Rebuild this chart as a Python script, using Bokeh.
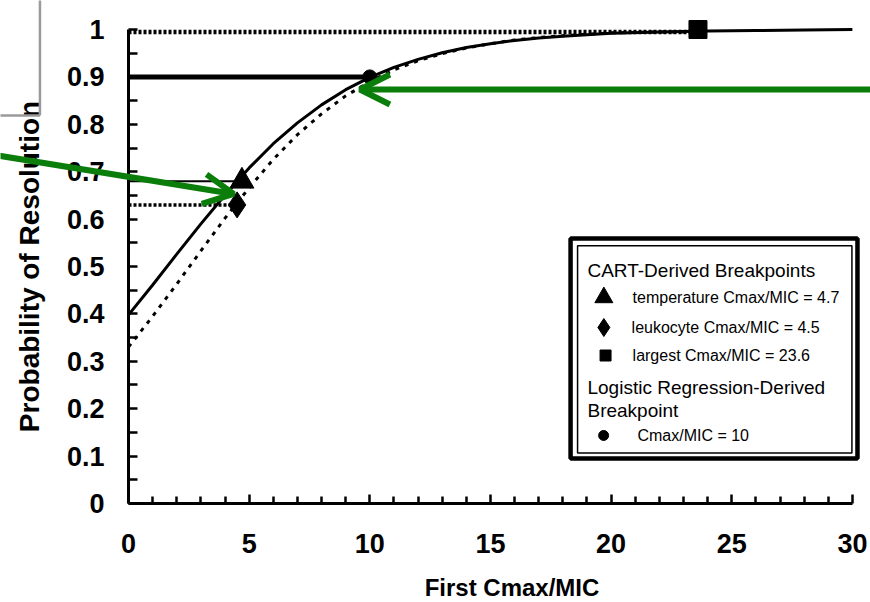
from bokeh.plotting import figure
from bokeh.models import Range1d, FixedTicker, Arrow, OpenHead, BoxAnnotation, LinearAxis
from bokeh.core.properties import value
from bokeh.embed import file_html
from bokeh.resources import INLINE

# ---------------- data ----------------
cmax_solid = [0, 1, 2, 3, 4, 5, 6, 7, 8, 9, 10, 11, 12, 13, 14, 15, 16, 17, 18, 19, 20, 22, 24, 26, 28, 30]
prob_solid = [0.398, 0.461, 0.526, 0.590, 0.651, 0.708, 0.759, 0.803, 0.841, 0.873, 0.899, 0.920,
              0.937, 0.951, 0.962, 0.970, 0.977, 0.982, 0.986, 0.989, 0.992, 0.995, 0.997, 0.998, 0.999, 1.0]

cmax_dashed = [0, 1, 2, 3, 4, 5, 6, 7, 8, 9, 10, 11, 12, 13, 14, 15, 16, 17, 18, 19, 20, 22, 23.6]
prob_dashed = [0.330, 0.395, 0.463, 0.533, 0.602, 0.666, 0.726, 0.778, 0.822, 0.860, 0.890, 0.915,
               0.934, 0.949, 0.961, 0.970, 0.978, 0.983, 0.987, 0.990, 0.993, 0.995, 0.995]

# breakpoints: temperature, leukocyte, largest, logistic regression
bp_x = [4.7, 4.5, 23.6, 10]
bp_y = [0.68, 0.63, 0.995, 0.90]
bp_marker = ["triangle", "diamond", "square", "circle"]

x_ticks = [0, 5, 10, 15, 20, 25, 30]
x_minor = [1, 2, 3, 4, 6, 7, 8, 9, 11, 12, 13, 14, 16, 17, 18, 19, 21, 22, 23, 24, 26, 27, 28, 29]
y_ticks = [0, 0.1, 0.2, 0.3, 0.4, 0.5, 0.6, 0.7, 0.8, 0.9, 1]
y_tick_labels = ["0", "0.1", "0.2", "0.3", "0.4", "0.5", "0.6", "0.7", "0.8", "0.9", "1"]
y_minor = [0.05, 0.15, 0.25, 0.35, 0.45, 0.55, 0.65, 0.75, 0.85, 0.95]

legend_headers = ["CART-Derived Breakpoints", "Logistic Regression-Derived", "Breakpoint"]
legend_labels = ["temperature Cmax/MIC = 4.7", "leukocyte Cmax/MIC = 4.5",
                 "largest Cmax/MIC = 23.6", "Cmax/MIC = 10"]

# ---------------- figure ----------------
# the frame fills the whole canvas; the axes are pinned at x=0 / y=0
BOLD = "'Liberation Sans', Arial, sans-serif"
p = figure(width=870, height=602, x_range=Range1d(-5.305, 30.75), y_range=Range1d(-0.2089, 1.0612),
           output_backend="svg", toolbar_location=None,
           min_border_left=0, min_border_right=0, min_border_top=0, min_border_bottom=0)
p.outline_line_color = None
p.xgrid.visible = False
p.ygrid.visible = False
p.background_fill_color = "white"

# axes
p.xaxis.ticker = FixedTicker(ticks=x_ticks, minor_ticks=x_minor)
p.yaxis.ticker = FixedTicker(ticks=y_ticks, minor_ticks=y_minor)
p.yaxis.major_label_overrides = {t: s for t, s in zip(y_ticks, y_tick_labels)}
p.xaxis.bounds = (0, 30)
p.yaxis.bounds = (0, 1)
p.xaxis.fixed_location = 0
p.yaxis.fixed_location = 0
for ax in (p.xaxis, p.yaxis):
    ax.axis_line_width = 3
    ax.axis_line_color = "black"
    ax.major_tick_out = 0
    ax.minor_tick_out = 0
    ax.major_tick_line_width = 2.5
    ax.minor_tick_line_width = 2.5
    ax.major_tick_line_color = "black"
    ax.minor_tick_line_color = "black"
    ax.major_label_text_font = BOLD
    ax.major_label_text_font_style = "bold"
    ax.major_label_text_font_size = "27px"
    ax.major_label_text_color = "black"
    ax.axis_label_text_font = BOLD
    ax.axis_label_text_font_style = "bold"
    ax.axis_label_text_color = "black"
p.xaxis.major_tick_in = 9
p.xaxis.minor_tick_in = 7
p.yaxis.major_tick_in = 9
p.yaxis.minor_tick_in = 9
p.xaxis.major_label_standoff = 31
p.yaxis.major_label_standoff = 24
p.yaxis.axis_label = "Probability of Resolution"
p.yaxis.axis_label_text_font_size = "28px"
p.yaxis.axis_label_standoff = 19

# x-axis title carried by a second, line-less axis whose span is centred under the title
title_axis = LinearAxis(fixed_location=0, bounds=(1.05, 30.75), ticker=FixedTicker(ticks=[]),
                        axis_line_color=None, major_tick_line_color=None, minor_tick_line_color=None,
                        major_label_text_font_size="0px",
                        axis_label="First Cmax/MIC", axis_label_text_font=BOLD,
                        axis_label_text_font_style="bold", axis_label_text_font_size="24px",
                        axis_label_text_color="black", axis_label_standoff=70)
p.add_layout(title_axis, "below")

# reference lines from the y axis to each breakpoint
ref_width = [2, 3.5, 4.5, 5]
ref_dash = ["solid", "3 2", "3 2", "solid"]
order = [2, 3, 0, 1]
for i in order:
    p.line([0, bp_x[i]], [bp_y[i], bp_y[i]], line_color="black",
           line_width=ref_width[i], line_dash=ref_dash[i])

# curves
p.line(cmax_solid, prob_solid, line_color="black", line_width=3)
p.line(cmax_dashed, prob_dashed, line_color="black", line_width=3, line_dash="4 6")

# breakpoint markers
bp_size = [24, 26, 18, 14]
bp_marker_y = [bp_y[0], bp_y[1], 1.0, bp_y[3]]
for i in range(4):
    p.scatter([bp_x[i]], [bp_marker_y[i]], marker=bp_marker[i], size=bp_size[i],
              fill_color="black", line_color="black")

# ---------------- legend box (double border) ----------------
p.add_layout(BoxAnnotation(left=18.32, right=30.21, top=0.559, bottom=0.095, level="underlay",
                           fill_color="white", fill_alpha=1.0,
                           line_color="black", line_alpha=1.0, line_width=4.5))
p.add_layout(BoxAnnotation(left=18.61, right=29.98, top=0.544, bottom=0.1065, level="underlay",
                           fill_alpha=0.0, line_color="black", line_alpha=1.0, line_width=1.5))

LEG = "'Liberation Sans', Arial, sans-serif"
head_x = [19.02, 19.02, 19.02]
head_y = [0.4916, 0.2447, 0.1962]
p.text(head_x, head_y, text=legend_headers, text_font=value(LEG), text_font_size="19px",
       text_baseline="middle", text_align="left", text_color="black")

item_mx = [19.70, 19.70, 19.77, 19.69]
item_y = [0.4346, 0.3713, 0.3122, 0.1435]
item_tx = [20.89, 20.85, 20.89, 21.09]
leg_size = [18, 18, 11, 10]
for i in range(4):
    p.scatter([item_mx[i]], [item_y[i]], marker=bp_marker[i], size=leg_size[i],
              fill_color="black", line_color="black")
p.text(item_tx, item_y, text=legend_labels, text_font=value(LEG), text_font_size="16px",
       text_baseline="middle", text_align="left", text_color="black")

# ---------------- overlaid annotations (green arrows, grey frame corner) ----------------
GREEN = "#0b7d0b"
p.add_layout(Arrow(x_start=-5.40, y_start=0.734, x_end=4.36, y_end=0.653,
                   line_color=GREEN, line_width=6,
                   end=OpenHead(size=30, line_color=GREEN, line_width=6)))
p.add_layout(Arrow(x_start=31.0, y_start=0.8735, x_end=9.59, y_end=0.8735,
                   line_color=GREEN, line_width=6,
                   end=OpenHead(size=30, line_color=GREEN, line_width=6)))
GREY = "#9a9a9a"
p.add_layout(Arrow(x_start=-3.67, y_start=1.08, x_end=-3.67, y_end=0.8186,
                   line_color=GREY, line_width=2.5, end=None))
p.add_layout(Arrow(x_start=-5.60, y_start=0.8186, x_end=-3.67, y_end=0.8186,
                   line_color=GREY, line_width=2.5, end=None))

open("out.html", "w").write(file_html(p, INLINE))
